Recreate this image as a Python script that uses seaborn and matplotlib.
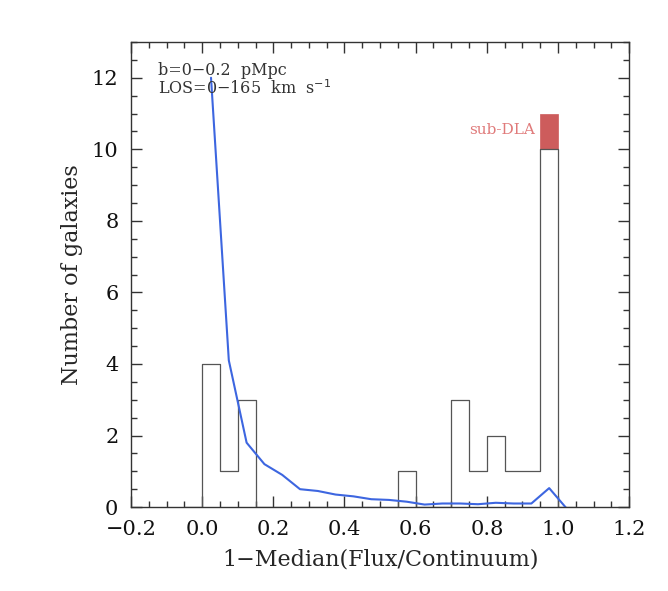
import matplotlib
matplotlib.use("Agg")
import matplotlib.pyplot as plt
import seaborn as sns
import pandas as pd
from matplotlib.ticker import MultipleLocator, FuncFormatter

# histogram of galaxies, bins of 0.05 from 0 to 1
# (an empty bin on each side so the outline drops to zero at 0.0 and 1.0)
binEdges = [round(-0.05 + 0.05 * i, 3) for i in range(23)]
binCounts = [0, 4, 1, 3, 0, 0, 0, 0, 0, 0, 0, 0, 1, 0, 0, 3, 1, 2, 1, 1, 10, 0]

# sub-DLA block on top of the last bin
dlaX = [0.975]
dlaBottom = [10]
dlaHeight = [1]

# random-sightline distribution (blue curve)
curveX = [0.025, 0.075, 0.125, 0.175, 0.225, 0.275, 0.325, 0.375, 0.425, 0.475,
          0.525, 0.575, 0.625, 0.675, 0.725, 0.775, 0.825, 0.875, 0.925, 0.975, 1.025]
curveY = [12.0, 4.1, 1.8, 1.2, 0.9, 0.5, 0.45, 0.35, 0.3, 0.22,
          0.2, 0.15, 0.07, 0.1, 0.1, 0.08, 0.12, 0.1, 0.1, 0.53, -0.05]

sns.set_style("ticks")
plt.rcParams["font.family"] = ["DejaVu Serif"]

fig = plt.figure(figsize=(6.68, 5.91), dpi=100)
ax = fig.add_axes([0.196, 0.142, 0.746, 0.787])

histData = pd.DataFrame({
    "center": [(binEdges[i] + binEdges[i + 1]) / 2 for i in range(len(binCounts))],
    "count": binCounts,
})
sns.histplot(data=histData, x="center", weights="count", bins=binEdges, element="step",
             fill=False, color="#555555", linewidth=0.9, ax=ax)
ax.bar(dlaX, dlaHeight, bottom=dlaBottom, width=0.05, color="#cd5c5c",
       edgecolor="#cd5c5c", linewidth=0.5)
sns.lineplot(x=curveX, y=curveY, color="#3d66e0", linewidth=1.5, ax=ax)

ax.text(0.935, 10.55, "sub-DLA", color="#e07a7a", fontsize=11, ha="right", va="center")
ax.text(-0.124, 12.2, "b=0\u22120.2  pMpc", fontsize=11.5, color="#333333", va="center")
ax.text(-0.124, 11.7, "LOS=0\u2212165  km  s$^{-1}$", fontsize=11.5, color="#333333", va="center")

ax.set_xlim(-0.2, 1.2)
ax.set_ylim(0, 13)
ax.xaxis.set_major_locator(MultipleLocator(0.2))
ax.xaxis.set_minor_locator(MultipleLocator(0.05))
ax.yaxis.set_major_locator(MultipleLocator(2))
ax.yaxis.set_minor_locator(MultipleLocator(0.5))
ax.xaxis.set_major_formatter(FuncFormatter(lambda v, p: f"{v:.1f}".replace("-", "\u2212")))
ax.tick_params(which="both", direction="in", top=True, right=True, colors="#333333",
               labelsize=15, labelcolor="#111111")
ax.tick_params(which="major", length=8, width=1, pad=9)
ax.tick_params(which="minor", length=4, width=1)
for side in ax.spines.values():
    side.set_visible(True)
    side.set_color("#333333")
    side.set_linewidth(1)

ax.set_xlabel("1\u2212Median(Flux/Continuum)", fontsize=16, labelpad=7)
ax.set_ylabel("Number of galaxies", fontsize=16, labelpad=6)

fig.savefig("out.png", dpi=100)
